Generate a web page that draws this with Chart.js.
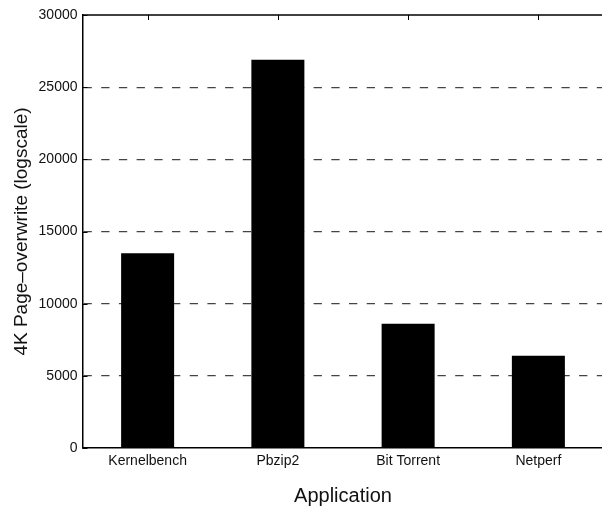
<!DOCTYPE html>
<html>
<head>
<meta charset="utf-8">
<script src="https://cdn.jsdelivr.net/npm/chart.js@4"></script>
<style>
  html, body { margin: 0; padding: 0; overflow: hidden; background: #fff; }
  #wrap { position: relative; width: 606px; height: 510px; }
</style>
</head>
<body>
<div id="wrap"><canvas id="c" width="606" height="510"></canvas></div>
<script>
// Page-overwrite counts per application
const applications = ['Kernelbench', 'Pbzip2', 'Bit Torrent', 'Netperf'];
const pageOverwrites = [13500, 26900, 8600, 6400];
const yTickValues = [0, 5000, 10000, 15000, 20000, 25000, 30000];

const FONT = '"Liberation Sans", Arial, Helvetica, sans-serif';
const INK = '#111';

// Box frame: top edge plus short inward tick marks (top at categories, left at values)
const framePlugin = {
  id: 'frame',
  afterDraw(chart) {
    const { ctx, chartArea: a, scales: { x, y } } = chart;
    ctx.save();
    ctx.strokeStyle = '#000';
    ctx.lineWidth = 1.5;
    ctx.beginPath();
    ctx.moveTo(a.left, a.top);
    ctx.lineTo(a.right + 2, a.top);
    ctx.stroke();
    ctx.lineWidth = 1;
    ctx.beginPath();
    x.ticks.forEach((t, i) => {
      const px = Math.round(x.getPixelForTick(i)) + 0.5;
      ctx.moveTo(px, a.top);
      ctx.lineTo(px, a.top + 5);
    });
    y.ticks.forEach((t, i) => {
      const py = Math.round(y.getPixelForTick(i)) + 0.5;
      ctx.moveTo(a.left, py);
      ctx.lineTo(a.left + 5, py);
    });
    ctx.stroke();
    ctx.restore();
  }
};

new Chart(document.getElementById('c'), {
  type: 'bar',
  data: {
    labels: applications,
    datasets: [{
      data: pageOverwrites,
      backgroundColor: '#000',
      borderWidth: 0,
      barPercentage: 0.407,
      categoryPercentage: 1.0
    }]
  },
  options: {
    responsive: false,
    animation: false,
    devicePixelRatio: 1,
    layout: { padding: { top: 15, right: 2.5, bottom: 0, left: 0 } },
    plugins: {
      legend: { display: false },
      tooltip: { enabled: false }
    },
    scales: {
      x: {
        offset: true,
        grid: { display: false, drawTicks: false },
        border: { display: true, color: '#000', width: 1.5 },
        ticks: {
          color: INK,
          font: { family: FONT, size: 14 },
          padding: 5,
          maxRotation: 0,
          autoSkip: false
        },
        title: {
          display: true,
          text: 'Application',
          color: INK,
          font: { family: FONT, size: 20 },
          padding: { top: 15, bottom: 2 }
        },
        afterFit(scale) { scale.height = 62; }
      },
      y: {
        min: 0,
        max: 30000,
        afterBuildTicks(scale) {
          scale.ticks = yTickValues.map(v => ({ value: v }));
        },
        grid: {
          drawTicks: false,
          color: ctx => (ctx.tick && (ctx.tick.value === 0 || ctx.tick.value === 30000)) ? 'rgba(0,0,0,0)' : '#444',
          lineWidth: 1.2
        },
        border: { display: true, color: '#000', width: 1.5, dash: [8.3, 9.4], dashOffset: 0 },
        ticks: {
          color: INK,
          font: { family: FONT, size: 14 },
          padding: 5,
          callback: v => String(v)
        },
        title: {
          display: true,
          text: '4K Page–overwrite (logscale)',
          color: INK,
          font: { family: FONT, size: 19 },
          padding: { top: 10, bottom: 0 }
        },
        afterFit(scale) { scale.width = 82.5; }
      }
    }
  },
  plugins: [framePlugin]
});
</script>
</body>
</html>
